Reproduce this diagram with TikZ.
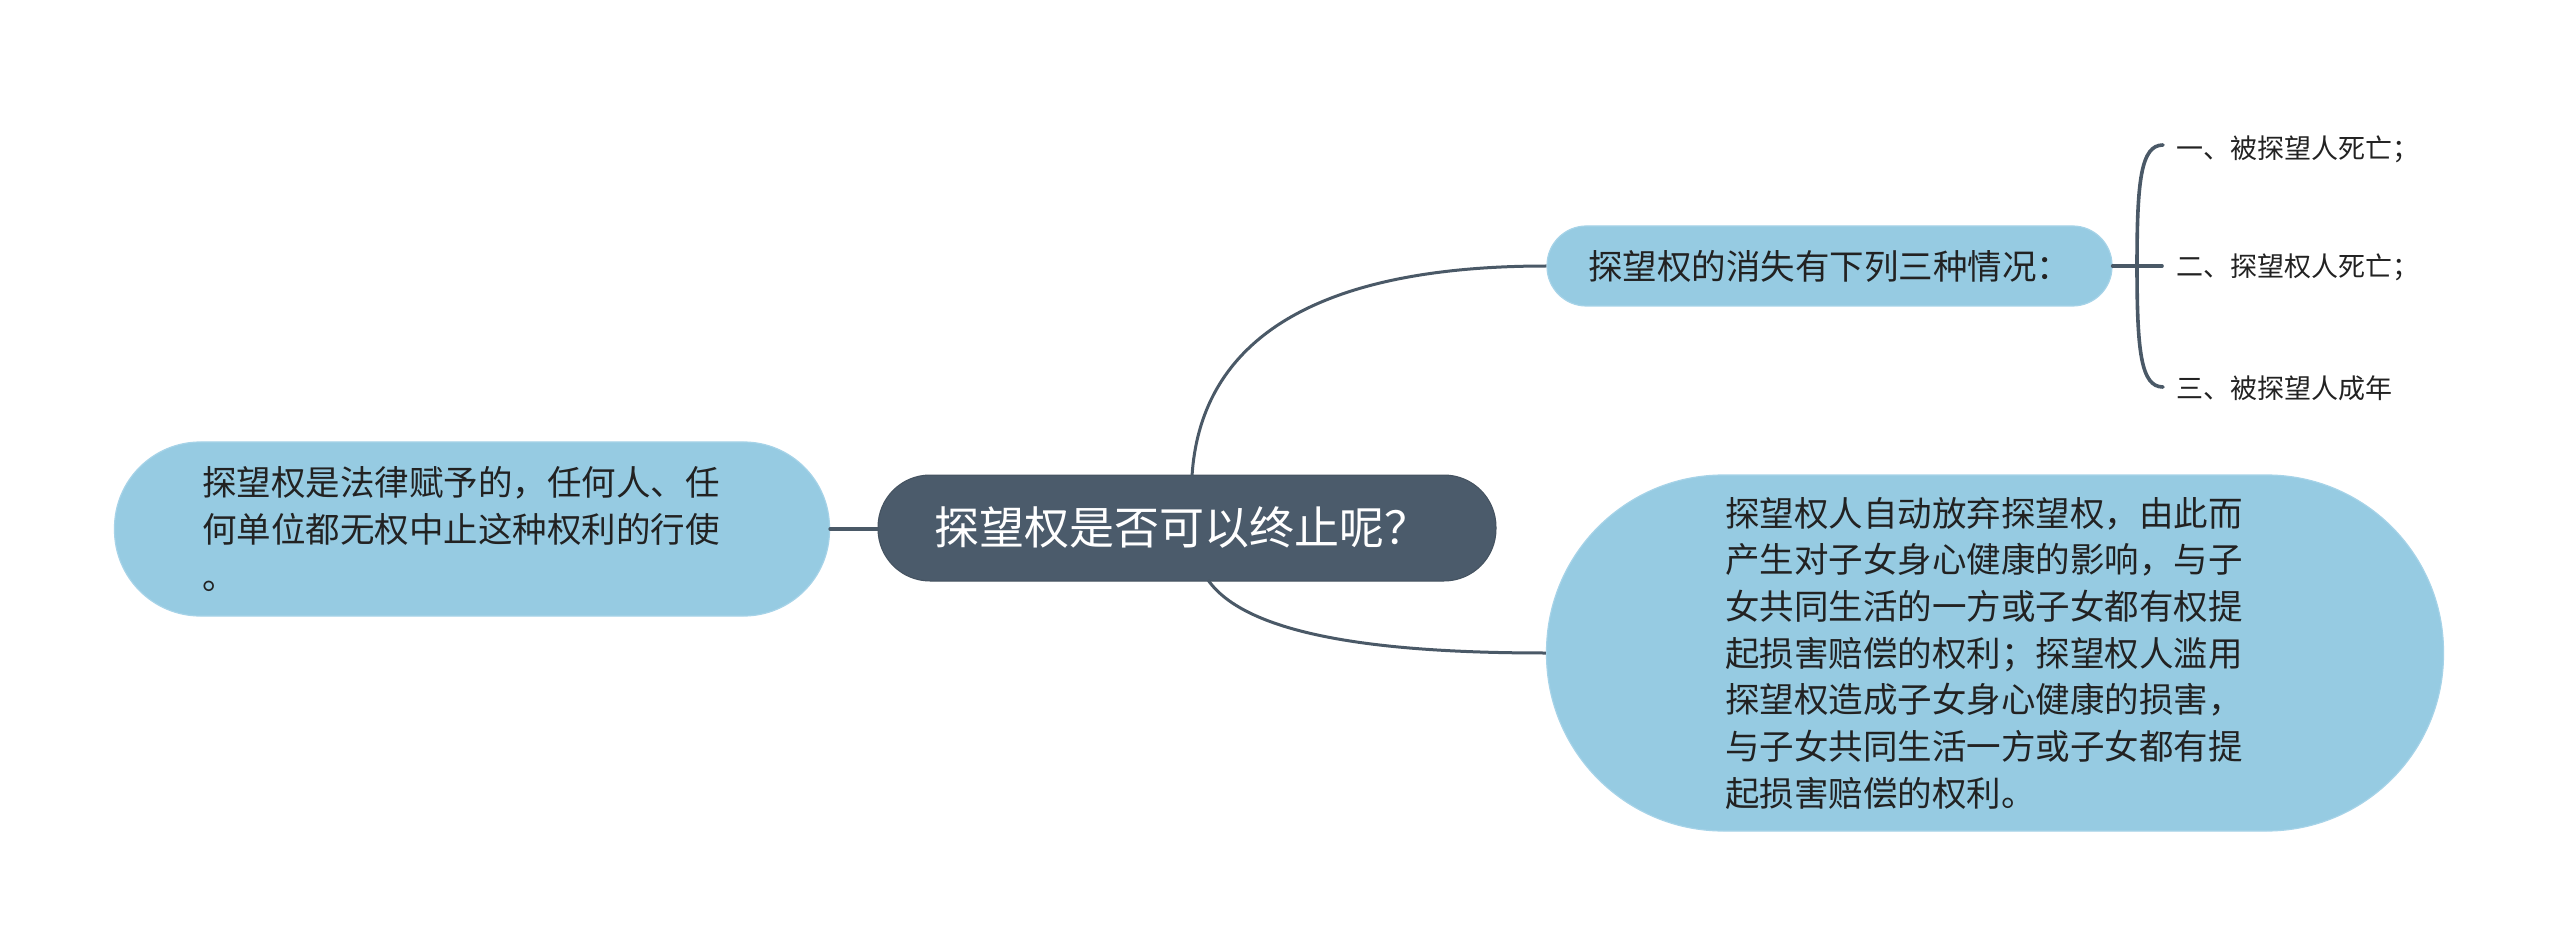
\documentclass[tikz,border=0pt]{standalone}
\usepackage{fontspec}
\setmainfont{Noto Sans CJK SC}
\definecolor{nodeblue}{HTML}{96CBE2}
\definecolor{nodeedge}{HTML}{A6D3E8}
\definecolor{slate}{HTML}{4B5B6B}
\definecolor{linecol}{HTML}{4A5967}
\definecolor{txt}{HTML}{222222}
\tikzset{
  centralbox/.style={fill=slate, draw=slate!90!black, line width=1pt, text=white, inner sep=0pt,
     font=\fontsize{45pt}{52pt}\selectfont},
  bluebox/.style={fill=nodeblue, draw=nodeedge, line width=1.2pt, text=txt, inner sep=0pt,
     font=\fontsize{34.5pt}{46.7pt}\selectfont},
  childtext/.style={text=txt, inner sep=0pt, font=\fontsize{27pt}{32pt}\selectfont},
  conn/.style={draw=linecol, line width=3pt},
  connthick/.style={draw=linecol, line width=3.6pt, line cap=round},
}
\begin{document}
\begin{tikzpicture}[x=1pt,y=-1pt]
\useasboundingbox (0,0) rectangle (2560,949);
\fill[white] (0,0) rectangle (2560,949);

\coordinate (cTop) at (1192,476);
\coordinate (cBot) at (1208,580);

% nodes
\node[centralbox, minimum width=618pt, minimum height=106pt, rounded corners=52pt] (C) at (1187,528)
  {\makebox[506pt][l]{探望权是否可以终止呢？}};

\node[bluebox, minimum width=715pt, minimum height=174pt, rounded corners=86pt,
      text width=540pt, align=left] (L) at (472,529)
  {探望权是法律赋予的，任何人、任\\何单位都无权中止这种权利的行使\\。};

\node[bluebox, minimum width=565pt, minimum height=80pt, rounded corners=39.5pt] (T) at (1829.5,266)
  {探望权的消失有下列三种情况：};

\node[bluebox, minimum width=897pt, minimum height=356pt, rounded corners=177pt,
      text width=540pt, align=left] (B) at (1995,653)
  {探望权人自动放弃探望权，由此而\\产生对子女身心健康的影响，与子\\女共同生活的一方或子女都有权提\\起损害赔偿的权利；探望权人滥用\\探望权造成子女身心健康的损害，\\与子女共同生活一方或子女都有提\\起损害赔偿的权利。};

\node[childtext, anchor=west] (k1) at (2176,149) {一、被探望人死亡；};
\node[childtext, anchor=west] (k2) at (2176,267) {二、探望权人死亡；};
\node[childtext, anchor=west] (k3) at (2176,388) {三、被探望人成年};

% connectors
\draw[connthick] (L.east) -- (L.east -| C.west);
\draw[conn] (cTop) .. controls (1200,350) and (1300,266) .. (T.west);
\draw[conn] (cBot) .. controls (1250,640) and (1400,653) .. (B.west);

\coordinate (bt) at (2163,145);
\coordinate (bm) at (2137,266);
\coordinate (bb) at (2163,387);
\coordinate (bc) at (2162,266);
\draw[connthick] (T.east) -- (bc);
\draw[connthick] (bt) .. controls (2141,145) and (2137,180) .. (bm) .. controls (2137,352) and (2141,387) .. (bb);
\end{tikzpicture}
\end{document}
